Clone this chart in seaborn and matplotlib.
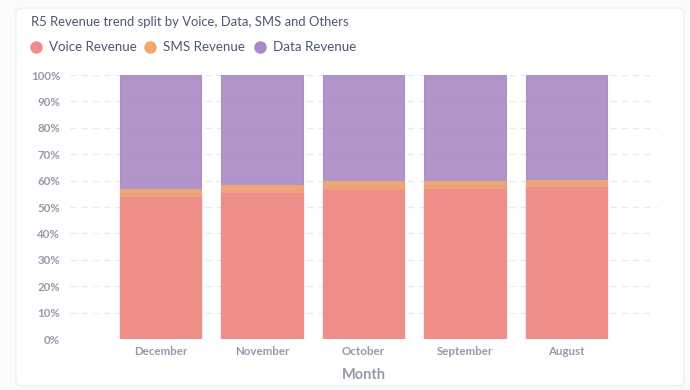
import numpy as np
import pandas as pd
import matplotlib
matplotlib.use("Agg")
import matplotlib.pyplot as plt
from matplotlib.patches import FancyBboxPatch
from matplotlib.lines import Line2D
from matplotlib.ticker import PercentFormatter
import seaborn as sns

# Data (share of revenue, %)
months = ['December', 'November', 'October', 'September', 'August']
voice_rev = [53.8, 55.4, 56.6, 56.9, 57.6]
sms_rev = [3.0, 2.9, 3.1, 2.8, 2.5]
data_rev = [43.2, 41.7, 40.3, 40.3, 39.9]

series = ['Voice Revenue', 'SMS Revenue', 'Data Revenue']
colors = {'Voice Revenue': '#EF8C8C', 'SMS Revenue': '#F2A86F', 'Data Revenue': '#A989C5'}

df = pd.DataFrame({'Month': months, 'Voice Revenue': voice_rev,
                   'SMS Revenue': sms_rev, 'Data Revenue': data_rev})
# cumulative tops for stacking
df['SMS top'] = df['Voice Revenue'] + df['SMS Revenue']
df['Data top'] = df['SMS top'] + df['Data Revenue']

sns.set_theme(style='white')
plt.rcParams['font.family'] = ['Lato', 'DejaVu Sans']

fig = plt.figure(figsize=(6.9, 3.9), dpi=100)
fig.patch.set_facecolor('#F9FBFC')
card = FancyBboxPatch((16 / 690, 4 / 390), 668 / 690, 378 / 390,
                      boxstyle='round,pad=0,rounding_size=0.012',
                      transform=fig.transFigure, facecolor='white',
                      edgecolor='#EEF0F3', linewidth=1, zorder=-5)
fig.add_artist(card)

ax = fig.add_axes([70 / 690, 51 / 390, 587 / 690, 264 / 390], zorder=2)
ax.set_facecolor('none')

layers = [('Data top', 'Data Revenue'), ('SMS top', 'SMS Revenue'), ('Voice Revenue', 'Voice Revenue')]
for col, name in layers:
    sns.barplot(data=df, x='Month', y=col, color=colors[name], width=0.8,
                alpha=0.9, edgecolor=colors[name], linewidth=0.8,
                saturation=1, ax=ax, zorder=3)

ax.set_xlim(-0.89, 4.89)
ax.set_ylim(0, 100)
ax.set_yticks(np.arange(0, 101, 10))
ax.yaxis.set_major_formatter(PercentFormatter(decimals=0))
ax.grid(axis='y', color='#E6E8EC', linestyle=(0, (5, 4)), linewidth=0.9, zorder=0)
ax.set_axisbelow(True)
sns.despine(ax=ax, left=True, top=True, right=True, bottom=True)
ax.tick_params(axis='both', length=0, colors='#949AAB', labelsize=8.3)
ax.tick_params(axis='y', pad=7)
ax.tick_params(axis='x', pad=5)
for lbl in ax.get_xticklabels() + ax.get_yticklabels():
    lbl.set_fontweight('bold')
ax.set_ylabel('')
ax.set_xlabel('Month', color='#949AAB', fontsize=10.5, fontweight='bold', labelpad=8)

fig.text(31 / 690, 1 - 22 / 390, 'R5 Revenue trend split by Voice, Data, SMS and Others',
         fontsize=9.4, color='#4C5773', va='center', ha='left')

legend_x = [36, 150, 260]
for xpos, name in zip(legend_x, series):
    fig.add_artist(Line2D([xpos / 690], [1 - 47 / 390], marker='o', markersize=8,
                          color=colors[name], linestyle='none', transform=fig.transFigure))
    fig.text((xpos + 13) / 690, 1 - 47 / 390, name, fontsize=9.6,
             color='#4C5773', va='center', ha='left')

fig.savefig('out.png', dpi=100, facecolor=fig.get_facecolor())
